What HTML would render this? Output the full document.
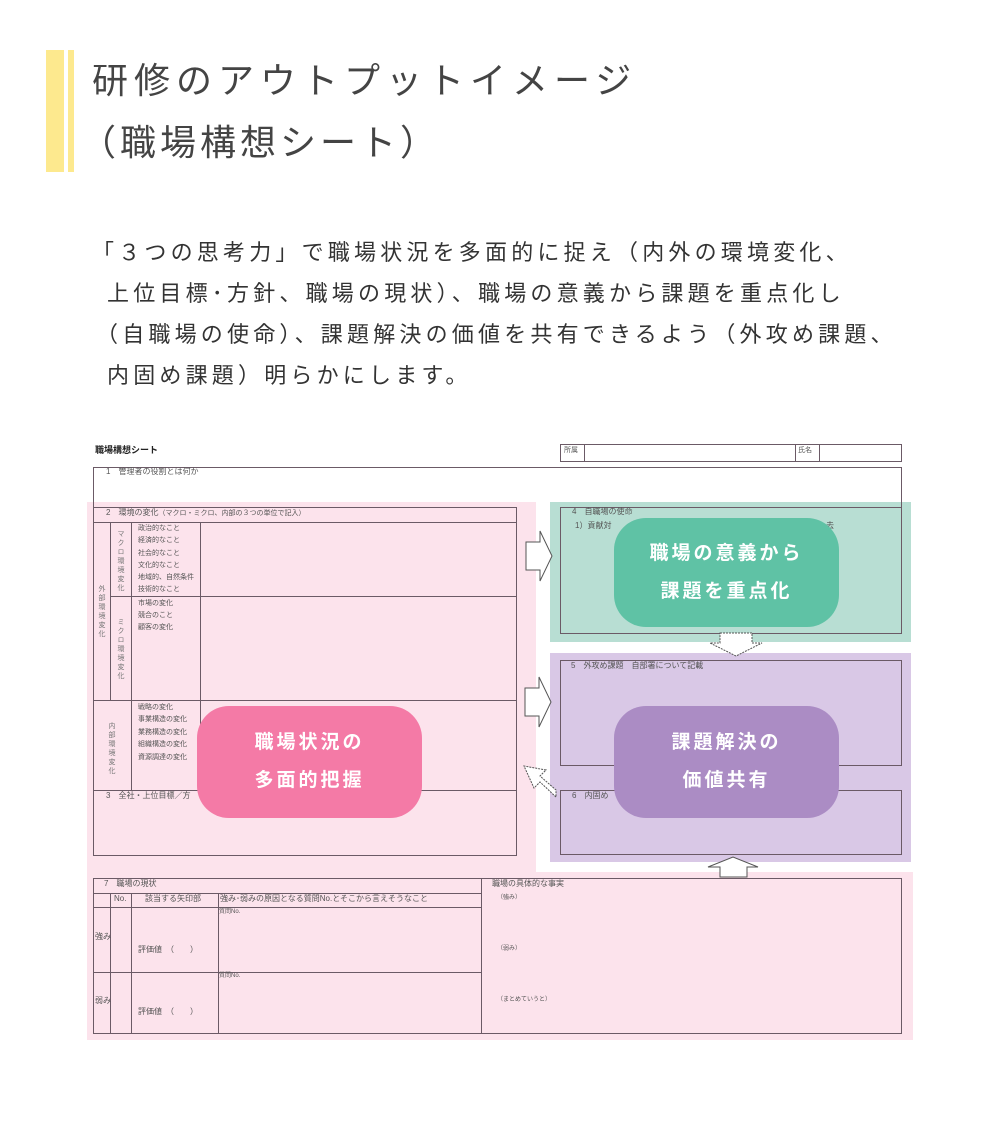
<!DOCTYPE html>
<html><head><meta charset="utf-8"><style>
body{margin:0;width:1000px;height:1121px;background:#fff;position:relative;overflow:hidden;font-family:"Liberation Sans","Noto Sans CJK JP",sans-serif;color:#333}
.a{position:absolute;box-sizing:border-box}
.bx{position:absolute;box-sizing:border-box;border:1px solid #6b5a66}
.l{position:absolute;background:#6b5a66}
.t{position:absolute;font-size:8px;color:#555;white-space:nowrap;line-height:1}
.v{position:absolute;font-size:7px;color:#777;writing-mode:vertical-rl;line-height:1;letter-spacing:2px}
.rb{position:absolute;border-radius:32px;color:#fff;font-weight:bold;font-size:19px;letter-spacing:3px;text-align:center;line-height:38px;display:flex;align-items:center;justify-content:center}
</style></head><body>
<div class="a" style="left:46px;top:50px;width:18px;height:122px;background:#fde98e"></div>
<div class="a" style="left:68px;top:50px;width:6px;height:122px;background:#fde98e"></div>
<div class="a" style="left:92px;top:50px;font-size:36px;line-height:62px;color:#444;letter-spacing:6px;white-space:nowrap">研修のアウトプットイメージ</div>
<div class="a" style="left:80px;top:112px;font-size:36px;line-height:62px;color:#444;letter-spacing:4px;white-space:nowrap">（職場構想シート）</div>
<div class="a" style="left:92px;top:232px;font-size:22px;line-height:41px;color:#333;letter-spacing:4.2px;white-space:nowrap">「３つの思考力」で職場状況を多面的に捉え（内外の環境変化、</div>
<div class="a" style="left:107px;top:273px;font-size:22px;line-height:41px;color:#333;letter-spacing:4.2px;white-space:nowrap">上位目標･方針、職場の現状）、職場の意義から課題を重点化し</div>
<div class="a" style="left:96px;top:314px;font-size:22px;line-height:41px;color:#333;letter-spacing:4.2px;white-space:nowrap">（自職場の使命）、課題解決の価値を共有できるよう（外攻め課題、</div>
<div class="a" style="left:107px;top:355px;font-size:22px;line-height:41px;color:#333;letter-spacing:4.2px;white-space:nowrap">内固め課題）明らかにします。</div>

<div class="a" style="left:87px;top:502px;width:449px;height:372px;background:#fce3ec"></div>
<div class="a" style="left:87px;top:872px;width:826px;height:168px;background:#fce3ec"></div>
<div class="a" style="left:550px;top:502px;width:361px;height:140px;background:#b8ded3"></div>
<div class="a" style="left:550px;top:653px;width:361px;height:209px;background:#d9c8e6"></div>

<div class="t" style="left:95px;top:446px;font-weight:bold;color:#222;font-size:9px">職場構想シート</div>
<div class="bx" style="left:560px;top:444px;width:342px;height:18px"></div>
<div class="l" style="left:584px;top:444px;width:1px;height:18px"></div>
<div class="l" style="left:795px;top:444px;width:1px;height:18px"></div>
<div class="l" style="left:819px;top:444px;width:1px;height:18px"></div>
<div class="t" style="left:564px;top:447px;font-size:7px">所属</div>
<div class="t" style="left:798px;top:447px;font-size:7px">氏名</div>

<div class="bx" style="left:93px;top:467px;width:809px;height:41px;border-bottom:none"></div>
<div class="t" style="left:106px;top:468px">1　管理者の役割とは何か</div>

<div class="bx" style="left:93px;top:507px;width:424px;height:349px"></div>
<div class="l" style="left:93px;top:522px;width:424px;height:1px"></div>
<div class="l" style="left:93px;top:700px;width:424px;height:1px"></div>
<div class="l" style="left:93px;top:790px;width:424px;height:1px"></div>
<div class="l" style="left:110px;top:596px;width:407px;height:1px"></div>
<div class="l" style="left:110px;top:522px;width:1px;height:178px"></div>
<div class="l" style="left:131px;top:522px;width:1px;height:268px"></div>
<div class="l" style="left:200px;top:522px;width:1px;height:268px"></div>
<div class="t" style="left:106px;top:509px">2　環境の変化<span style="font-size:7px">（マクロ・ミクロ、内部の３つの単位で記入）</span></div>
<div class="t" style="left:138px;top:523px;font-size:7px;line-height:12.3px">政治的なこと<br>経済的なこと<br>社会的なこと<br>文化的なこと<br>地域的、自然条件<br>技術的なこと</div>
<div class="t" style="left:138px;top:598px;font-size:7px;line-height:12px">市場の変化<br>競合のこと<br>顧客の変化</div>
<div class="t" style="left:138px;top:702px;font-size:7px;line-height:12.4px">戦略の変化<br>事業構造の変化<br>業務構造の変化<br>組織構造の変化<br>資源調達の変化</div>
<div class="v" style="left:117px;top:530px">マクロ環境変化</div>
<div class="v" style="left:117px;top:618px">ミクロ環境変化</div>
<div class="v" style="left:98px;top:585px">外部環境変化</div>
<div class="v" style="left:108px;top:722px">内部環境変化</div>
<div class="t" style="left:106px;top:792px">3　全社・上位目標／方</div>

<div class="bx" style="left:560px;top:507px;width:342px;height:127px"></div>
<div class="t" style="left:572px;top:508px">4　自職場の使命</div>
<div class="t" style="left:575px;top:522px">1）貢献対</div>
<div class="t" style="left:826px;top:522px">去</div>
<div class="bx" style="left:560px;top:660px;width:342px;height:106px"></div>
<div class="t" style="left:571px;top:662px">5　外攻め課題　自部署について記載</div>
<div class="bx" style="left:560px;top:790px;width:342px;height:65px"></div>
<div class="t" style="left:572px;top:792px">6　内固め</div>

<div class="bx" style="left:93px;top:878px;width:809px;height:156px"></div>
<div class="l" style="left:93px;top:893px;width:388px;height:1px"></div>
<div class="l" style="left:93px;top:907px;width:388px;height:1px"></div>
<div class="l" style="left:93px;top:972px;width:388px;height:1px"></div>
<div class="l" style="left:110px;top:893px;width:1px;height:141px"></div>
<div class="l" style="left:131px;top:893px;width:1px;height:141px"></div>
<div class="l" style="left:218px;top:893px;width:1px;height:141px"></div>
<div class="l" style="left:481px;top:878px;width:1px;height:156px"></div>
<div class="t" style="left:104px;top:880px">7　職場の現状</div>
<div class="t" style="left:114px;top:895px">No.</div>
<div class="t" style="left:145px;top:895px">該当する矢印部</div>
<div class="t" style="left:220px;top:895px">強み･弱みの原因となる質問No.とそこから言えそうなこと</div>
<div class="t" style="left:219px;top:909px;font-size:6px">質問No.</div>
<div class="t" style="left:219px;top:973px;font-size:6px">質問No.</div>
<div class="t" style="left:95px;top:933px">強み</div>
<div class="t" style="left:95px;top:997px">弱み</div>
<div class="t" style="left:138px;top:946px">評価値　（　　）</div>
<div class="t" style="left:138px;top:1008px">評価値　（　　）</div>
<div class="t" style="left:492px;top:880px">職場の具体的な事実</div>
<div class="t" style="left:497px;top:895px;font-size:6px">（強み）</div>
<div class="t" style="left:497px;top:946px;font-size:6px">（弱み）</div>
<div class="t" style="left:497px;top:997px;font-size:6px">（まとめていうと）</div>

<svg class="a" style="left:0;top:0" width="1000" height="1121">
<g fill="#fff" stroke="#555" stroke-width="1">
<polygon points="526,542 540,542 540,531 552,556 540,581 540,570 526,570"/>
<polygon points="525,688 539,688 539,677 551,702 539,727 539,716 525,716"/>
<polygon points="720,633 752,633 752,643 762,643 736,656 710,643 720,643" stroke-dasharray="2,1"/>
<polygon points="720,877 747,877 747,867 758,867 733,857 708,867 720,867"/>
<polygon points="556,797 540,782 534,788 524,766 546,770 540,776 556,790" stroke-dasharray="2,1"/>
</g></svg>

<div class="rb" style="left:614px;top:518px;width:225px;height:109px;background:#5fc2a5">職場の意義から<br>課題を重点化</div>
<div class="rb" style="left:614px;top:706px;width:225px;height:112px;background:#ab8cc4">課題解決の<br>価値共有</div>
<div class="rb" style="left:197px;top:706px;width:225px;height:112px;background:#f47aa6">職場状況の<br>多面的把握</div>
</body></html>
